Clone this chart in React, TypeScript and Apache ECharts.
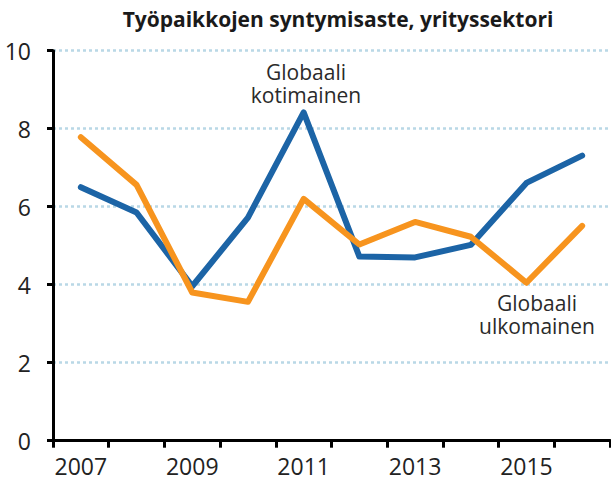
import React, { useEffect, useRef } from "react";
import * as echarts from "echarts";

const categories = ["2007", "2008", "2009", "2010", "2011", "2012", "2013", "2014", "2015", "2016"];
const kotimainen = [6.5, 5.85, 3.96, 5.72, 8.42, 4.72, 4.7, 5.02, 6.61, 7.31];
const ulkomainen = [7.78, 6.56, 3.8, 3.56, 6.2, 5.03, 5.61, 5.23, 4.05, 5.51];
const titleText = "Työpaikkojen syntymisaste, yrityssektori";
const labelKotimainen = ["Globaali", "kotimainen"];
const labelUlkomainen = ["Globaali", "ulkomainen"];

const FONT = "'Open Sans', sans-serif";

function annot(x: number, y: number, text: string) {
  return {
    type: "text",
    x,
    y,
    style: {
      text,
      fontFamily: FONT,
      fontSize: 21,
      lineHeight: 21,
      fill: "#2a2a2a",
      align: "center",
      verticalAlign: "middle",
    },
  };
}

export default function App() {
  const ref = useRef<HTMLDivElement>(null);
  useEffect(() => {
    document.body.style.margin = "0";
    const chart = echarts.init(ref.current!, null, { renderer: "svg" });
    chart.setOption({
      animation: false,
      backgroundColor: "#ffffff",
      title: {
        text: titleText,
        left: 333,
        textAlign: "center",
        top: 3,
        textStyle: { fontFamily: FONT, fontWeight: "bold", fontSize: 21, color: "#1a1a1a" },
      },
      grid: { left: 53, right: 1, top: 50.7, bottom: 50.3, containLabel: false },
      xAxis: {
        type: "category",
        data: categories,
        boundaryGap: true,
        axisLine: { lineStyle: { color: "#000", width: 3 } },
        axisTick: { show: true, inside: false, length: 7, lineStyle: { color: "#000", width: 3 }, alignWithLabel: false, interval: 0 },
        axisLabel: { interval: 1, margin: 14, fontFamily: FONT, fontSize: 23, color: "#222" },
        splitLine: { show: false },
      },
      yAxis: {
        type: "value",
        min: 0,
        max: 10,
        interval: 2,
        axisLine: { show: true, lineStyle: { color: "#000", width: 3 } },
        axisTick: { show: true, inside: false, length: 6, lineStyle: { color: "#000", width: 3 } },
        axisLabel: { margin: 22, fontFamily: FONT, fontSize: 23, color: "#222" },
        splitLine: { show: true, lineStyle: { color: "#b9d8e6", type: [3, 3], width: 2.5 } },
      },
      series: [
        {
          name: "Globaali kotimainen",
          type: "line",
          data: kotimainen,
          symbol: "none",
          lineStyle: { color: "#1c64a6", width: 6, cap: "round", join: "round" },
          z: 3,
        },
        {
          name: "Globaali ulkomainen",
          type: "line",
          data: ulkomainen,
          symbol: "none",
          lineStyle: { color: "#f7941e", width: 6, cap: "round", join: "round" },
          z: 4,
        },
      ],
      graphic: [
        annot(306, 72, labelKotimainen[0]),
        annot(306, 95, labelKotimainen[1]),
        annot(537, 303, labelUlkomainen[0]),
        annot(537, 326, labelUlkomainen[1]),
      ],
    });
    return () => chart.dispose();
  }, []);
  return <div ref={ref} style={{ width: 611, height: 491 }} />;
}
